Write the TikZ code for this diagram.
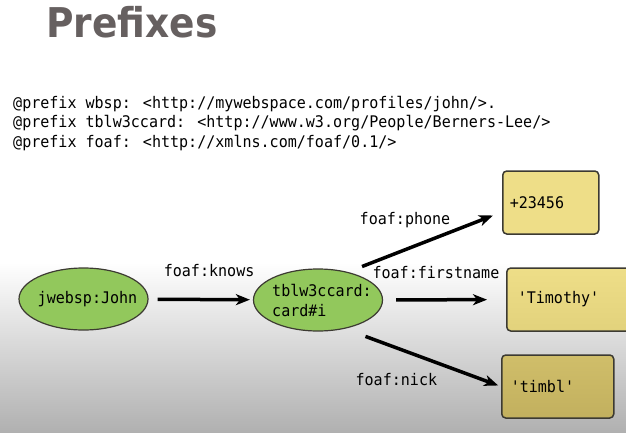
\documentclass[tikz,border=0pt]{standalone}
\usepackage{fontspec}
\setmainfont{DejaVu Sans}
\newfontfamily\codefont[FakeStretch=0.94]{DejaVu Sans Mono}
\newfontfamily\headfont[FakeStretch=0.915]{DejaVu Sans}
\usetikzlibrary{arrows.meta,shapes.geometric}
\definecolor{titlegray}{RGB}{102,96,96}
\definecolor{resgreen}{RGB}{146,200,92}
\definecolor{lityellow}{RGB}{238,222,136}
\definecolor{lityellowdk}{RGB}{226,210,124}
\definecolor{litolive}{RGB}{208,190,106}
\definecolor{litolivedk}{RGB}{194,176,94}
\definecolor{edgegray}{RGB}{60,58,50}
\def\code{\codefont\fontsize{16}{20}\selectfont}
\tikzset{
  resource/.style={ellipse, draw=edgegray, line width=1.2pt, fill=resgreen,
    minimum width=129pt, minimum height=62pt, inner sep=0pt, inner xsep=-10pt,
    font=\code, align=left},
  literal/.style={rectangle, rounded corners=4pt, draw=edgegray, line width=1.5pt,
    fill=lityellow, minimum height=63pt, align=left, font=\code},
  link/.style={line width=3.5pt, -{Stealth[length=14pt,width=11pt,inset=4pt]}},
  lbl/.style={font=\code, inner sep=0pt},
}

\begin{document}
\begin{tikzpicture}[x=1pt,y=-1pt]
  %%%%% START %%%%%

  \fill[white] (0,0) rectangle (626,433);
  \shade[top color=white, bottom color=black!31] (0,262) rectangle (626,433);
  \useasboundingbox (0,0) rectangle (626,433);

  \node[anchor=base west, inner sep=0pt, text=titlegray,
    font=\headfont\fontsize{41}{44}\selectfont\bfseries] (title) at (46,38) {Prefixes};

  \node[lbl, anchor=base west] (pfx1) at (13,109) {@prefix wbsp: <http://mywebspace.com/profiles/john/>.};
  \node[lbl, anchor=base west] (pfx2) at (13,128) {@prefix tblw3ccard: <http://www.w3.org/People/Berners-Lee/>};
  \node[lbl, anchor=base west] (pfx3) at (13,147) {@prefix foaf: <http://xmlns.com/foaf/0.1/>};

  \node[resource] (john) at (83.5,299) {\hspace*{8pt}jwebsp:John};
  \node[resource] (card) at (318,300) {\hspace*{8pt}tblw3ccard:\\\hspace*{8pt}card\#i};

  \node[literal, anchor=west, text width=82pt, inner xsep=7pt] (phone) at (502,202.5) {+23456};
  \node[literal, anchor=west, text width=112pt, inner xsep=11pt,
    top color=lityellow, bottom color=lityellowdk] (first) at (506,299.5) {'Timothy'};
  \node[literal, anchor=west, text width=94pt, inner xsep=9pt,
    top color=litolive, bottom color=litolivedk] (nick) at (501,386.5) {'timbl'};

  \draw[link, shorten <=9pt, shorten >=3pt] (john) -- (card)
    node[lbl, pos=0.58, above=21pt] {foaf:knows};
  \draw[link, shorten <=15pt, shorten >=9.7pt] (card.43) -- (phone.191)
    node[lbl, pos=0.37, above=20pt] {foaf:phone};
  \draw[link, shorten <=13pt, shorten >=19pt] (card) -- (first)
    node[lbl, pos=0.43, above=19.5pt] {foaf:firstname};
  \draw[link, shorten <=22pt, shorten >=3pt] (card.313) -- (nick.west)
    node[lbl, pos=0.33, below=23.5pt] {foaf:nick};

  %%%%% END %%%%%
\end{tikzpicture}
\end{document}
